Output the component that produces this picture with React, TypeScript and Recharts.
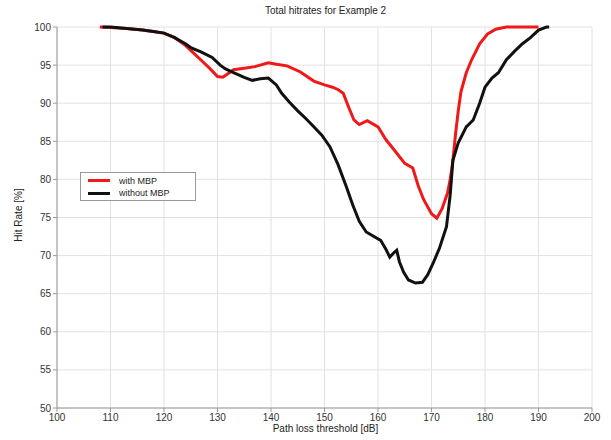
import { LineChart, Line, XAxis, YAxis, CartesianGrid } from 'recharts'

// Path loss threshold [dB] and hit rate [%]
const withMbpX = [108, 110, 113, 116, 118, 120, 122, 124, 125.5, 127, 128.5, 130, 131, 132, 133, 135, 137, 139.5, 141, 143, 145.5, 148, 150, 151.5, 152.5, 153.5, 154.5, 155.5, 156.5, 158, 160, 161.5, 163, 165, 166.5, 167.5, 168.5, 170, 171, 172, 173, 173.5, 174, 174.5, 175, 175.5, 176.5, 177.5, 179, 180.5, 182, 184, 190]
const withMbpY = [100, 99.95, 99.8, 99.6, 99.4, 99.2, 98.6, 97.6, 96.6, 95.6, 94.6, 93.5, 93.4, 93.9, 94.4, 94.6, 94.8, 95.3, 95.1, 94.9, 94.1, 92.9, 92.4, 92.1, 91.8, 91.3, 89.5, 87.8, 87.2, 87.7, 86.9, 85.2, 83.9, 82.1, 81.5, 79.2, 77.4, 75.5, 74.9, 76.2, 78.2, 80, 82.5, 86, 89, 91.5, 94, 95.7, 97.8, 99.1, 99.7, 100, 100]

const withoutMbpX = [108.5, 110, 113, 116, 118, 120, 122, 124, 125, 127, 129, 130.5, 131.5, 133, 135, 136.5, 138, 139.5, 141, 142, 143.5, 145, 146.5, 148, 149.5, 151, 152.5, 154, 155.3, 156.5, 157.8, 159, 160.5, 161.5, 162.2, 163, 163.5, 164, 164.8, 165.7, 167, 168.3, 169.3, 170.3, 171.5, 172.8, 173.5, 174, 175, 176.5, 177.8, 179, 180, 181.3, 182.5, 184, 185.5, 187, 188.5, 190, 191.5, 192]
const withoutMbpY = [100, 100, 99.8, 99.6, 99.4, 99.2, 98.6, 97.8, 97.3, 96.7, 96, 95, 94.5, 94, 93.4, 93, 93.2, 93.3, 92.4, 91.3, 90.1, 89, 88, 86.9, 85.8, 84.3, 82, 79.2, 76.6, 74.5, 73.1, 72.6, 72, 70.8, 69.8, 70.4, 70.7, 69.2, 67.8, 66.8, 66.4, 66.5, 67.5, 69, 71, 73.8, 78, 82.5, 84.8, 86.9, 87.8, 90, 92.1, 93.3, 94, 95.7, 96.8, 97.8, 98.6, 99.6, 100, 100]

const xTicks = [100, 110, 120, 130, 140, 150, 160, 170, 180, 190, 200]
const yTicks = [50, 55, 60, 65, 70, 75, 80, 85, 90, 95, 100]

const withMbp = withMbpX.map((x, i) => ({ x, y: withMbpY[i] }))
const withoutMbp = withoutMbpX.map((x, i) => ({ x, y: withoutMbpY[i] }))

const font = '"Liberation Sans", Arial, sans-serif'
const tickStyle = { fill: '#333', fontSize: 10, fontFamily: font }

export default function App() {
  return (
    <div style={{ position: 'absolute', left: 0, top: 0, width: 611, height: 440, background: '#fff', fontFamily: font }}>
      <LineChart width={611} height={440} margin={{ top: 27, right: 19, left: 0, bottom: 0 }}>
        <CartesianGrid stroke="#e2e2e2" verticalPoints={undefined} />
        <XAxis
          dataKey="x"
          type="number"
          domain={[100, 200]}
          ticks={xTicks}
          allowDataOverflow
          height={32}
          tick={tickStyle}
          tickSize={4}
          stroke="#999"
        />
        <XAxis xAxisId="top" orientation="top" type="number" domain={[100, 200]} ticks={xTicks} tick={false} height={0} stroke="#999" tickSize={4} mirror />
        <YAxis
          type="number"
          domain={[50, 100]}
          ticks={yTicks}
          width={57}
          tick={tickStyle}
          tickSize={4}
          stroke="#999"
        />
        <YAxis yAxisId="right" orientation="right" type="number" domain={[50, 100]} ticks={yTicks} tick={false} width={0} stroke="#999" tickSize={4} mirror />
        <Line data={withMbp} dataKey="y" type="linear" stroke="#f01818" strokeWidth={3} dot={false} isAnimationActive={false} />
        <Line data={withoutMbp} dataKey="y" type="linear" stroke="#111" strokeWidth={3} dot={false} isAnimationActive={false} />
      </LineChart>
      <div style={{ position: 'absolute', top: 5, left: 0, width: 611, paddingLeft: 40, boxSizing: 'border-box', textAlign: 'center', fontSize: 10, color: '#222' }}>
        Total hitrates for Example 2
      </div>
      <div style={{ position: 'absolute', top: 423, left: 0, width: 611, paddingLeft: 40, boxSizing: 'border-box', textAlign: 'center', fontSize: 10, color: '#222' }}>
        Path loss threshold [dB]
      </div>
      <div style={{ position: 'absolute', left: 18, top: 215, transform: 'translate(-50%, -50%) rotate(-90deg)', fontSize: 10, color: '#222', whiteSpace: 'nowrap' }}>
        Hit Rate [%]
      </div>
      <div style={{ position: 'absolute', left: 80, top: 172, width: 114, height: 27, border: '1px solid #999', background: '#fff', fontSize: 9, color: '#222' }}>
        <div style={{ display: 'flex', alignItems: 'center', height: 13, marginTop: 1 }}>
          <span style={{ display: 'inline-block', width: 22, height: 3, background: '#f01818', marginLeft: 7, marginRight: 9 }} />
          with MBP
        </div>
        <div style={{ display: 'flex', alignItems: 'center', height: 12 }}>
          <span style={{ display: 'inline-block', width: 22, height: 3, background: '#111', marginLeft: 7, marginRight: 9 }} />
          without MBP
        </div>
      </div>
    </div>
  )
}
